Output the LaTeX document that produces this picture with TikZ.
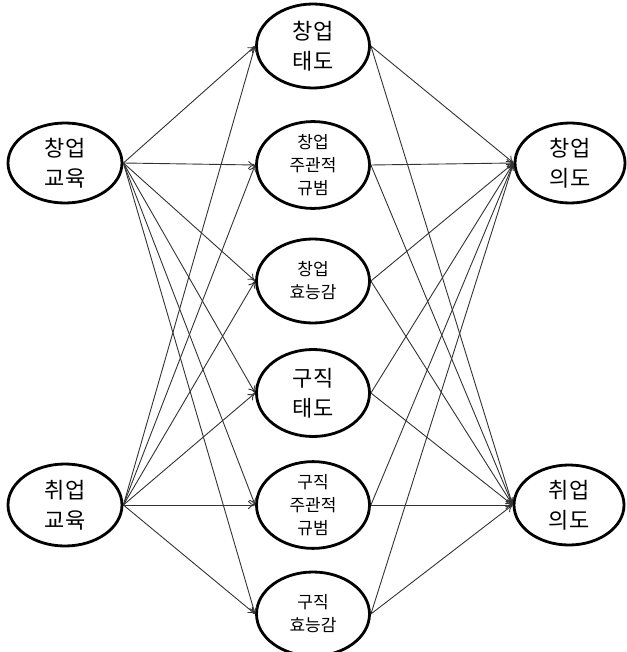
\documentclass[tikz,border=0pt]{standalone}
\usepackage{fontspec}
\setmainfont{Noto Sans CJK KR}
\usetikzlibrary{shapes.geometric,arrows.meta}
\begin{document}
\begin{tikzpicture}[x=1pt,y=-1pt,
  latent/.style={ellipse,draw,line width=2.8pt,inner sep=0pt,align=center,
    minimum width=113pt,minimum height=84pt},
  bigtext/.style={font=\fontsize{22}{30}\selectfont},
  smalltext/.style={font=\fontsize{17}{23}\selectfont},
  path/.style={draw=black!80,line width=0.9pt,-{To[length=7pt,width=8pt]}}]
\useasboundingbox (0,0) rectangle (626,652);
% left
\node[latent,bigtext,minimum width=114pt,minimum height=80pt] (ee) at (65,163) {창업\\교육};
\node[latent,bigtext,minimum width=114pt,minimum height=82pt] (je) at (65,505) {취업\\교육};
% middle
\node[latent,bigtext] (m1) at (313,46) {창업\\태도};
\node[latent,smalltext,minimum height=86pt] (m2) at (313,165) {창업\\주관적\\규범};
\node[latent,smalltext] (m3) at (313,281) {창업\\효능감};
\node[latent,bigtext,minimum height=87pt] (m4) at (313,393) {구직\\태도};
\node[latent,smalltext,minimum height=84pt] (m5) at (313,505) {구직\\주관적\\규범};
\node[latent,smalltext] (m6) at (313,614) {구직\\효능감};
% right
\node[latent,bigtext,minimum width=110pt,minimum height=80pt] (ei) at (570,163) {창업\\의도};
\node[latent,bigtext,minimum width=110pt,minimum height=80pt] (ji) at (569,505) {취업\\의도};
% connectors
\foreach \m in {m1,m2,m3,m4,m5,m6}{
  \draw[path] (ee.east) -- (\m.west);
  \draw[path] (je.east) -- (\m.west);
  \draw[path] (\m.east) -- (ei.west);
  \draw[path] (\m.east) -- (ji.west);
}
\end{tikzpicture}
\end{document}
